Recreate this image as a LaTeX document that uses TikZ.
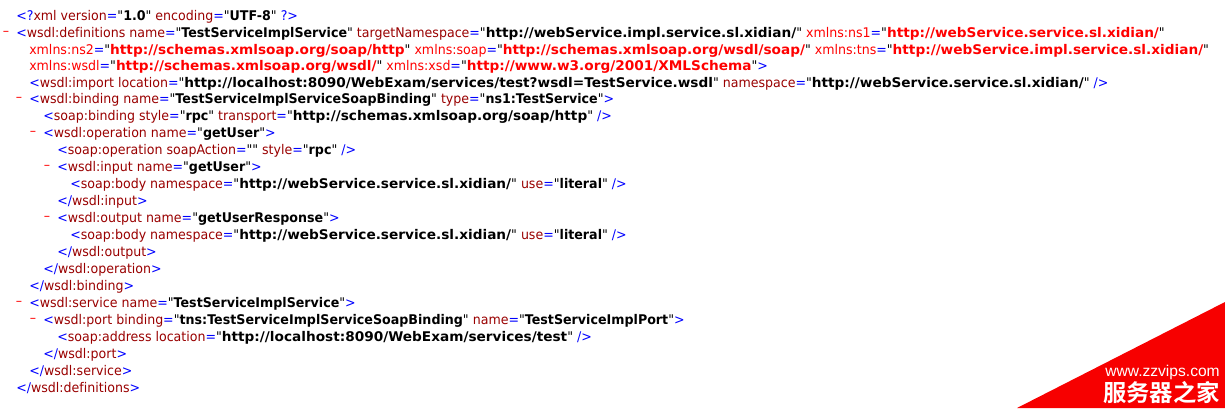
\documentclass[tikz,border=0pt]{standalone}
\usepackage{fontspec}
\setmainfont{DejaVu Sans}[Ligatures={NoCommon,TeXOff},FakeStretch=0.945,BoldFeatures={FakeStretch=0.95}]
\newfontface\urlbold{DejaVu Sans Bold}[Ligatures={NoCommon,TeXOff},FakeStretch=1.025]
\newfontfamily\cjkfont{Noto Sans CJK SC}[BoldFont={* Bold}]
\newfontfamily\markfont{Liberation Sans}
\usepackage{tikz}
\usetikzlibrary{positioning}
\definecolor{markblue}{RGB}{0,0,255}
\definecolor{namered}{RGB}{153,0,0}
\definecolor{nsred}{RGB}{255,0,0}
\definecolor{stampred}{RGB}{247,0,0}
\newcommand{\tg}[1]{\textcolor{markblue}{#1}}
\newcommand{\nm}[1]{\textcolor{namered}{#1}}
\newcommand{\att}[2]{\nm{#1}\tg{=}"\textbf{#2}"}
\newcommand{\urlatt}[2]{\nm{#1}\tg{=}"{\urlbold #2}"}
\newcommand{\nsatt}[2]{\textcolor{nsred}{#1}\tg{=}"\textcolor{nsred}{\urlbold #2}"}
\tikzset{
    x=0.75pt, y=-0.75pt, % one unit is one pixel of the reference
    node distance=5pt,
    codeline/.style={ % One line of the listing
        anchor=base west,
        inner sep=0pt,
        font=\fontsize{10}{12}\selectfont
    },
    foldmark/.style={ % Red minus in front of an open element
        inner sep=0pt,
        text=nsred,
        font=\fontsize{10}{12}\selectfont
    }
}
\begin{document}
\begin{tikzpicture}
    \useasboundingbox (0,0) rectangle (1225,408);
    \node[codeline] (xmldecl)  at (16,20)  {\tg{<?}\nm{xml version}\tg{=}"\textbf{1.0}" \nm{encoding}\tg{=}"\textbf{UTF-8}" \tg{?>}};
    \node[codeline] (defs)     at (16,37)  {\tg{<}\nm{wsdl:definitions} \att{name}{TestServiceImplService} \urlatt{targetNamespace}{http://webService.impl.service.sl.xidian/} \nsatt{xmlns:ns1}{http://webService.service.sl.xidian/}};
    \node[codeline] (nsb)      at (29,54)  {\nsatt{xmlns:ns2}{http://schemas.xmlsoap.org/soap/http} \nsatt{xmlns:soap}{http://schemas.xmlsoap.org/wsdl/soap/} \nsatt{xmlns:tns}{http://webService.impl.service.sl.xidian/}};
    \node[codeline] (nsc)      at (29,70)  {\nsatt{xmlns:wsdl}{http://schemas.xmlsoap.org/wsdl/} \nsatt{xmlns:xsd}{http://www.w3.org/2001/XMLSchema}\tg{>}};
    \node[codeline] (import)   at (29,87)  {\tg{<}\nm{wsdl:import} \urlatt{location}{http://localhost:8090/WebExam/services/test?wsdl=TestService.wsdl} \urlatt{namespace}{http://webService.service.sl.xidian/} \tg{/>}};
    \node[codeline] (binding)  at (29,103) {\tg{<}\nm{wsdl:binding} \att{name}{TestServiceImplServiceSoapBinding} \att{type}{ns1:TestService}\tg{>}};
    \node[codeline] (soapbind) at (43,120) {\tg{<}\nm{soap:binding} \att{style}{rpc} \urlatt{transport}{http://schemas.xmlsoap.org/soap/http} \tg{/>}};
    \node[codeline] (oper)     at (43,137) {\tg{<}\nm{wsdl:operation} \att{name}{getUser}\tg{>}};
    \node[codeline] (soapoper) at (57,154) {\tg{<}\nm{soap:operation} \att{soapAction}{} \att{style}{rpc} \tg{/>}};
    \node[codeline] (input)    at (57,171) {\tg{<}\nm{wsdl:input} \att{name}{getUser}\tg{>}};
    \node[codeline] (inbody)   at (70,188) {\tg{<}\nm{soap:body} \urlatt{namespace}{http://webService.service.sl.xidian/} \att{use}{literal} \tg{/>}};
    \node[codeline] (inend)    at (57,205) {\tg{</}\nm{wsdl:input}\tg{>}};
    \node[codeline] (output)   at (57,222) {\tg{<}\nm{wsdl:output} \att{name}{getUserResponse}\tg{>}};
    \node[codeline] (outbody)  at (70,239) {\tg{<}\nm{soap:body} \urlatt{namespace}{http://webService.service.sl.xidian/} \att{use}{literal} \tg{/>}};
    \node[codeline] (outend)   at (57,256) {\tg{</}\nm{wsdl:output}\tg{>}};
    \node[codeline] (operend)  at (43,273) {\tg{</}\nm{wsdl:operation}\tg{>}};
    \node[codeline] (bindend)  at (29,290) {\tg{</}\nm{wsdl:binding}\tg{>}};
    \node[codeline] (service)  at (29,307) {\tg{<}\nm{wsdl:service} \att{name}{TestServiceImplService}\tg{>}};
    \node[codeline] (port)     at (43,324) {\tg{<}\nm{wsdl:port} \att{binding}{tns:TestServiceImplServiceSoapBinding} \att{name}{TestServiceImplPort}\tg{>}};
    \node[codeline] (address)  at (57,341) {\tg{<}\nm{soap:address} \urlatt{location}{http://localhost:8090/WebExam/services/test} \tg{/>}};
    \node[codeline] (portend)  at (43,358) {\tg{</}\nm{wsdl:port}\tg{>}};
    \node[codeline] (servend)  at (29,375) {\tg{</}\nm{wsdl:service}\tg{>}};
    \node[codeline] (defsend)  at (16,392) {\tg{</}\nm{wsdl:definitions}\tg{>}};
    % fold marks
    \foreach \line in {defs, binding, oper, input, output, service, port}
        \node[foldmark, left=of \line] (\line fold) {–};
    % stamp in the corner
    \fill[stampred] (1017,408) -- (1225,302) -- (1225,408) -- cycle;
    \node[inner sep=0pt, anchor=base east, text=white, font=\markfont\fontsize{11.7}{13}\selectfont] (stampurl) at (1220,376) {www.zzvips.com};
    \node[inner sep=0pt, anchor=base east, text=white, font=\cjkfont\bfseries\fontsize{17.5}{20}\selectfont] (stampname) at (1220,401) {服务器之家};
\end{tikzpicture}
\end{document}
